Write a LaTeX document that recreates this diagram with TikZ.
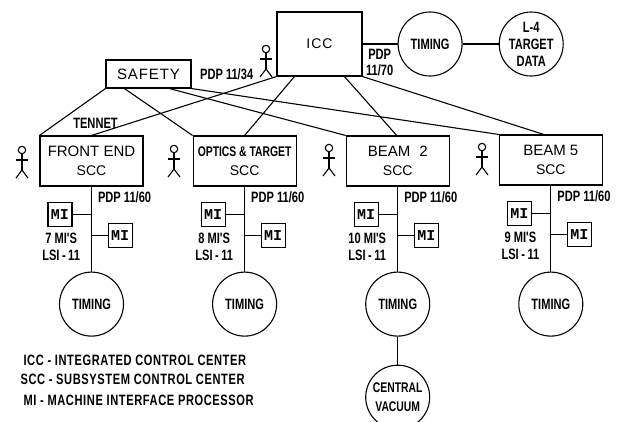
\documentclass[tikz,border=0pt]{standalone}
\usepackage{fontspec}
\setmainfont{Liberation Sans}
\newfontfamily\narrowfont[FakeStretch=0.74]{Liberation Sans}
\newfontfamily\legendfont[FakeStretch=0.74,LetterSpace=4]{Liberation Sans}
\newfontfamily\widefont[LetterSpace=6]{Liberation Sans}
\newfontfamily\mifont{Liberation Mono}
\usepackage{tikz}
\usetikzlibrary{positioning}

\begin{document}
\begin{tikzpicture}[
  x=1pt, y=1pt,
  every path/.style={line width=1.1pt},
  sccbox/.style={
    rectangle, draw, inner sep=0pt,
    minimum width=103pt, minimum height=50pt,
    font=\fontsize{15}{19}\selectfont, align=center},
  mibox/.style={
    rectangle, draw, inner sep=0pt, minimum size=24pt,
    font=\mifont\bfseries\fontsize{15}{15}\selectfont},
  ringnode/.style={
    circle, draw, inner sep=0pt, minimum size=64pt,
    font=\narrowfont\bfseries\fontsize{15}{17}\selectfont, align=center},
  lbl/.style={
    inner sep=0pt, align=center,
    font=\narrowfont\bfseries\fontsize{15}{17}\selectfont},
  legend/.style={
    inner sep=0pt, anchor=west,
    font=\legendfont\bfseries\fontsize{15}{15}\selectfont},
  actor/.pic={
    \draw (0,0) circle (3.7);
    \draw (0,-3.7) -- (0,-20);
    \draw (-6,-10) -- (6,-10);
    \draw (-6,-28) -- (0,-20) -- (6,-28);
  }
]
  \useasboundingbox (0,0) rectangle (617,-421);

  % top row
  \node[draw, inner sep=0pt, minimum width=85pt, minimum height=64pt,
        font=\fontsize{14}{17}\selectfont](icc) at (319.5,-44){I\kern1pt C\kern1pt C};
  \node[ringnode, right=35pt of icc](toptiming){TIMING};
  \node[ringnode, right=36pt of toptiming](target){L-4\\TARGET\\DATA};
  \node[draw, inner sep=0pt, minimum width=85pt, minimum height=28pt,
        font=\widefont\fontsize{15}{17}\selectfont](safety) at (148.5,-74){SAFETY};
  \node[lbl, right=8pt of safety](pdpsafety){PDP 11/34};
  \node[lbl, font=\narrowfont\bfseries\fontsize{15}{16}\selectfont,
        anchor=south west](pdpicc) at ([xshift=3pt,yshift=-32pt]icc.east){PDP\\11/70};

  % subsystem boxes
  \node[sccbox](front) at (91.5,-161){FRONT END\\{\fontsize{14}{19}\selectfont SCC}};
  \node[sccbox, right=49pt of front, font=\narrowfont\bfseries\fontsize{14}{19}\selectfont](optics){OPTICS \& TARGET\\{\normalfont\fontsize{14}{19}\selectfont SCC}};
  \node[sccbox, right=49pt of optics](beamtwo){BEAM\hspace{9pt}2\\{\fontsize{14}{19}\selectfont SCC}};
  \node[sccbox, right=49pt of beamtwo, yshift=1pt](beamfive){BEAM 5\\{\fontsize{14}{19}\selectfont SCC}};
  \node[lbl, above=6pt of front.north, xshift=4pt](tennet){TENNET};

  % operators
  \pic at (266,-49) {actor};
  \pic at (22,-150) {actor};
  \pic at (174,-149) {actor};
  \pic at (329,-148) {actor};
  \pic at (482,-147) {actor};

  % front end column
  \node[ringnode, below=85pt of front](fronttiming){TIMING};
  \coordinate[below=28pt of front.south](frontl);
  \coordinate[below=49pt of front.south](frontr);
  \node[mibox, left=19pt of frontl](frontmia){MI};
  \node[mibox, right=16pt of frontr](frontmib){MI};
  \node[lbl, below right=5pt and 6pt of front.south](frontpdp){PDP 11/60};
  \node[lbl, left=11pt of frontr, yshift=-11pt](frontlsi){7 MI'S\\LSI\,-\,11};

  % optics column
  \node[ringnode, below=85pt of optics](opticstiming){TIMING};
  \coordinate[below=28pt of optics.south](opticsl);
  \coordinate[below=49pt of optics.south](opticsr);
  \node[mibox, left=19pt of opticsl](opticsmia){MI};
  \node[mibox, right=16pt of opticsr](opticsmib){MI};
  \node[lbl, below right=5pt and 6pt of optics.south](opticspdp){PDP 11/60};
  \node[lbl, left=11pt of opticsr, yshift=-11pt](opticslsi){8 MI'S\\LSI\,-\,11};

  % beam 2 column
  \node[ringnode, below=85pt of beamtwo](beamtwotiming){TIMING};
  \node[ringnode, below=28pt of beamtwotiming, font=\narrowfont\bfseries\fontsize{14}{19}\selectfont](vacuum){CENTRAL\\VACUUM};
  \coordinate[below=28pt of beamtwo.south](beamtwol);
  \coordinate[below=49pt of beamtwo.south](beamtwor);
  \node[mibox, left=19pt of beamtwol](beamtwomia){MI};
  \node[mibox, right=16pt of beamtwor](beamtwomib){MI};
  \node[lbl, below right=5pt and 6pt of beamtwo.south](beamtwopdp){PDP 11/60};
  \node[lbl, left=11pt of beamtwor, yshift=-11pt](beamtwolsi){10 MI'S\\LSI\,-\,11};

  % beam 5 column
  \node[ringnode, below=86pt of beamfive](beamfivetiming){TIMING};
  \coordinate[below=28pt of beamfive.south](beamfivel);
  \coordinate[below=49pt of beamfive.south](beamfiver);
  \node[mibox, left=19pt of beamfivel](beamfivemia){MI};
  \node[mibox, right=16pt of beamfiver](beamfivemib){MI};
  \node[lbl, below right=5pt and 6pt of beamfive.south](beamfivepdp){PDP 11/60};
  \node[lbl, left=11pt of beamfiver, yshift=-11pt](beamfivelsi){9 MI'S\\LSI\,-\,11};

  % abbreviations
  \node[legend](legicc) at (23,-360){ICC - INTEGRATED CONTROL CENTER};
  \node[legend](legscc) at (20,-379){SCC - SUBSYSTEM CONTROL CENTER};
  \node[legend](legmi) at (23,-400){MI - MACHINE INTERFACE PROCESSOR};

  % links
  \draw(icc)--(toptiming);
  \draw(toptiming)--(target);
  \draw(safety.south west)--(front.north west);
  \draw([xshift=19pt]safety.south west)--(optics.north west);
  \draw([xshift=64pt]safety.south west)--(beamtwo.north west);
  \draw(safety.south east)--(beamfive.north west);
  \draw(icc.south west)--(front.north);
  \draw([xshift=18pt]icc.south west)--(optics.north);
  \draw([xshift=68pt]icc.south west)--([xshift=-1pt]beamtwo.north);
  \draw(icc.south east)--([xshift=-7pt]beamfive.north);
  \draw(front)--(fronttiming);
  \draw(optics)--(opticstiming);
  \draw(beamtwo)--(beamtwotiming);
  \draw(beamfive)--(beamfivetiming);
  \draw(beamtwotiming)--(vacuum);
  \draw(frontmia)--(frontl);
  \draw(frontmib)--(frontr);
  \draw(opticsmia)--(opticsl);
  \draw(opticsmib)--(opticsr);
  \draw(beamtwomia)--(beamtwol);
  \draw(beamtwomib)--(beamtwor);
  \draw(beamfivemia)--(beamfivel);
  \draw(beamfivemib)--(beamfiver);
\end{tikzpicture}
\end{document}
